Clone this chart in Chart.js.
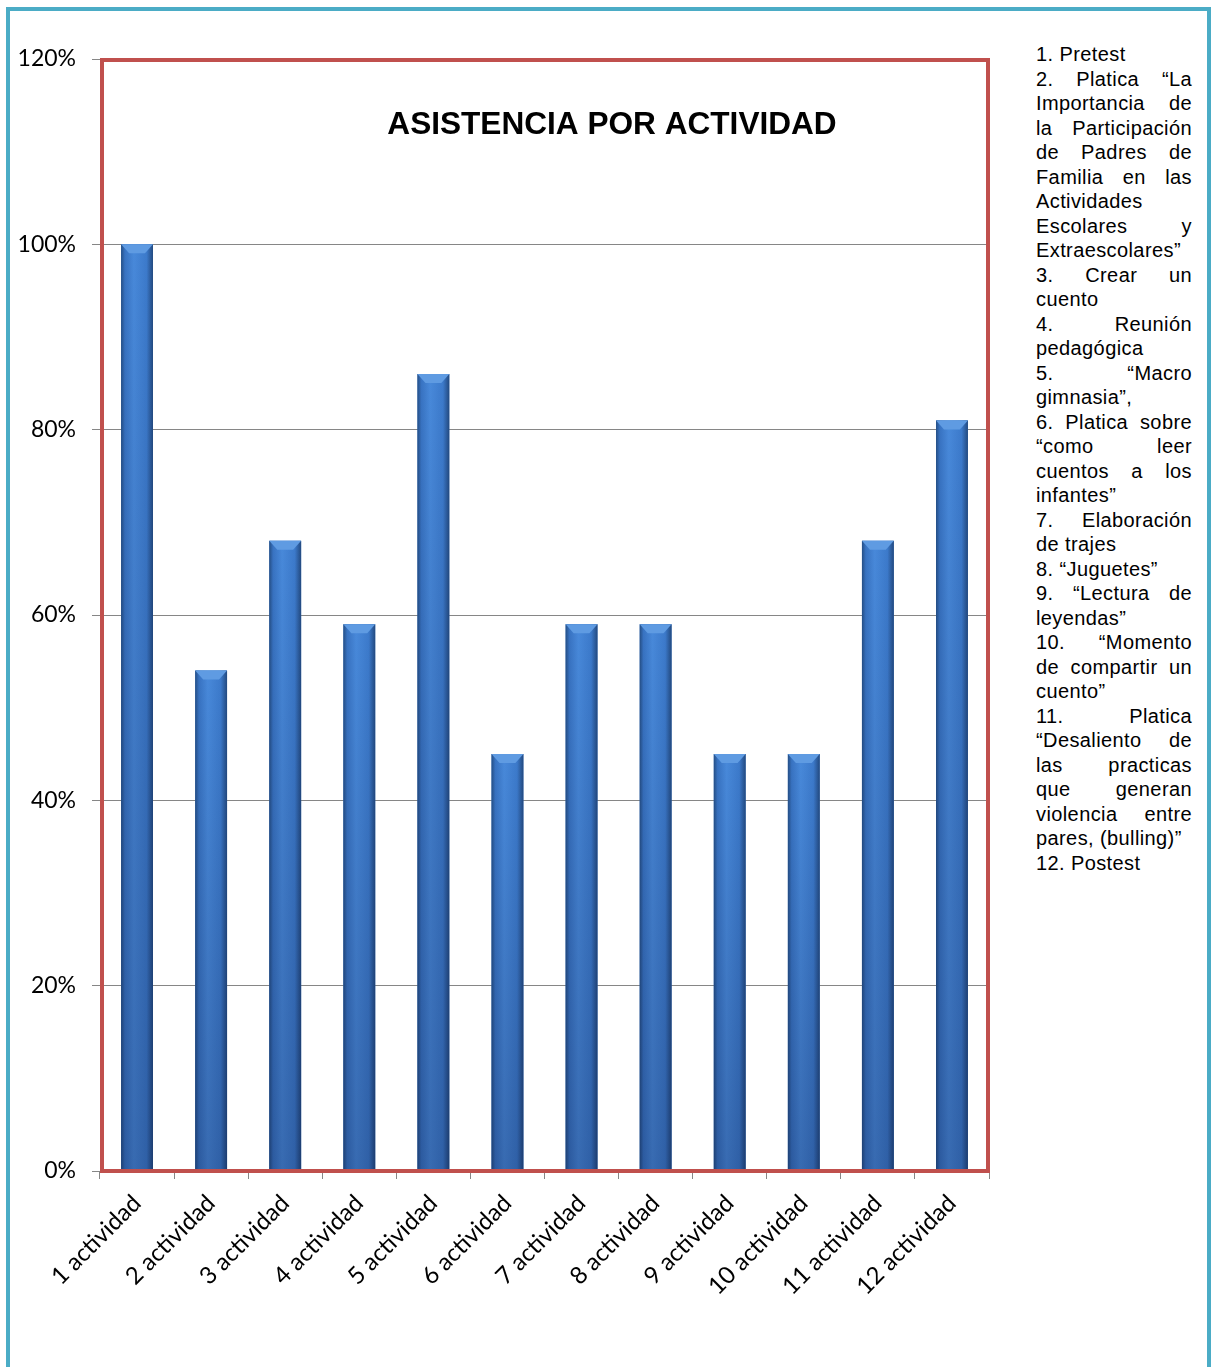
<!DOCTYPE html>
<html>
<head>
<meta charset="utf-8">
<script src="https://cdn.jsdelivr.net/npm/chart.js@4.4.0/dist/chart.umd.min.js"></script>
<style>
    body { margin: 0; background: #fff; width: 1211px; height: 1367px; overflow: hidden; position: relative; }
    #frame { position: absolute; left: 6px; top: 7px; width: 1197px; height: 1420px; border: 4px solid #4bacc6; }
    #wrap { position: absolute; left: 0; top: 0; width: 1000px; height: 1340px; }
    #notes { position: absolute; left: 1036px; top: 42px; width: 156px; font-family: "Liberation Sans", Arial, sans-serif;
             font-size: 20px; letter-spacing: 0.4px; line-height: 24.5px; color: #000; }
    #notes div { text-align: justify; text-align-last: justify; white-space: nowrap; }
    #notes div.end { text-align-last: left; }
</style>
</head>
<body>
<div id="frame"></div>
<div id="wrap"><canvas id="chart"></canvas></div>
<div id="notes"></div>

<script>
// Asistencia por actividad
const categories = ['1 actividad', '2 actividad', '3 actividad', '4 actividad', '5 actividad', '6 actividad',
    '7 actividad', '8 actividad', '9 actividad', '10 actividad', '11 actividad', '12 actividad'];
const asistencia = [100, 54, 68, 59, 86, 45, 59, 59, 45, 45, 68, 81];
const yTicks = [0, 20, 40, 60, 80, 100, 120];
const chartTitle = 'ASISTENCIA POR ACTIVIDAD';

// notes on the right, one entry per line as laid out in the original
const noteLines = [
    ['1. Pretest'],
    ['2. Platica “La', 'Importancia de', 'la Participación', 'de Padres de', 'Familia en las', 'Actividades', 'Escolares y', 'Extraescolares”'],
    ['3. Crear un', 'cuento'],
    ['4. Reunión', 'pedagógica'],
    ['5. “Macro', 'gimnasia”,'],
    ['6. Platica sobre', '“como leer', 'cuentos a los', 'infantes”'],
    ['7. Elaboración', 'de trajes'],
    ['8. “Juguetes”'],
    ['9. “Lectura de', 'leyendas”'],
    ['10. “Momento', 'de compartir un', 'cuento”'],
    ['11. Platica', '“Desaliento de', 'las practicas', 'que generan', 'violencia entre', 'pares, (bulling)”'],
    ['12. Postest']
];

const notes = document.getElementById('notes');
noteLines.forEach(par => {
    par.forEach((line, i) => {
        const d = document.createElement('div');
        d.textContent = line;
        // 'Actividades' sits alone on its line and is left aligned
        if (i === par.length - 1 || line === 'Actividades') d.className = 'end';
        notes.appendChild(d);
    });
});

const yFont = { family: "Lato, 'Open Sans', sans-serif", size: 23 };
const xFont = { family: "Lato, 'Open Sans', sans-serif", size: 24 };
const gray = '#868686';

// bevelled, shaded bars drawn over the library's own bar rectangles
const barLook = {
    id: 'barLook',
    afterDatasetsDraw(chart) {
        const ctx = chart.ctx;
        const meta = chart.getDatasetMeta(0);
        ctx.save();
        meta.data.forEach(bar => {
            const p = bar.getProps(['x', 'y', 'base', 'width'], true);
            const l = p.x - p.width / 2, r = p.x + p.width / 2;
            const h = p.base - p.y;

            const g = ctx.createLinearGradient(l, 0, r, 0);
            g.addColorStop(0, '#254f86');
            g.addColorStop(0.12, '#3873c2');
            g.addColorStop(0.4, '#4889da');
            g.addColorStop(0.8, '#3c7acb');
            g.addColorStop(1, '#234a80');
            ctx.fillStyle = g;
            ctx.fillRect(l, p.y, p.width, h);

            const v = ctx.createLinearGradient(0, p.y, 0, p.base);
            v.addColorStop(0, 'rgba(10,20,60,0)');
            v.addColorStop(1, 'rgba(10,20,60,0.26)');
            ctx.fillStyle = v;
            ctx.fillRect(l, p.y, p.width, h);

            // top bevel
            const bh = 9;
            ctx.beginPath();
            ctx.moveTo(l, p.y);
            ctx.lineTo(r, p.y);
            ctx.lineTo(r - 8, p.y + bh);
            ctx.lineTo(l + 8, p.y + bh);
            ctx.closePath();
            ctx.fillStyle = '#5f9be2';
            ctx.fill();
        });

        // red plot frame
        const a = chart.chartArea;
        ctx.strokeStyle = '#c0504d';
        ctx.lineWidth = 4;
        ctx.strokeRect(a.left + 2, a.top + 1, a.right - a.left - 3, a.bottom - a.top - 1);

        // title inside the plot
        ctx.fillStyle = '#000';
        ctx.font = "bold 31.6px 'Liberation Sans', Arial, sans-serif";
        ctx.textAlign = 'center';
        ctx.textBaseline = 'alphabetic';
        ctx.fillText(chartTitle, 612, 134);
        ctx.restore();
    }
};

new Chart(document.getElementById('chart'), {
    type: 'bar',
    data: {
        labels: categories,
        datasets: [{
            label: 'Asistencia',
            data: asistencia,
            backgroundColor: '#3a76c4',
            categoryPercentage: 1,
            barPercentage: 0.43
        }]
    },
    options: {
        responsive: true,
        maintainAspectRatio: false,
        animation: false,
        layout: { padding: { left: 0, top: 59, right: 11, bottom: 0 } },
        plugins: {
            legend: { display: false },
            tooltip: { enabled: false }
        },
        scales: {
            x: {
                grid: { drawOnChartArea: false, color: gray, tickLength: 8 },
                border: { color: gray },
                ticks: { color: '#000', font: xFont, maxRotation: 45, minRotation: 45, padding: 10 },
                afterFit(scale) { scale.height = 169; }
            },
            y: {
                min: 0,
                max: 120,
                grid: { color: gray, tickLength: 8 },
                border: { color: gray },
                ticks: {
                    color: '#000',
                    font: yFont,
                    padding: 16,
                    stepSize: 20,
                    callback: v => yTicks.includes(v) ? v + '%' : ''
                },
                afterFit(scale) { scale.width = 100; }
            }
        }
    },
    plugins: [barLook]
});
</script>
</body>
</html>
